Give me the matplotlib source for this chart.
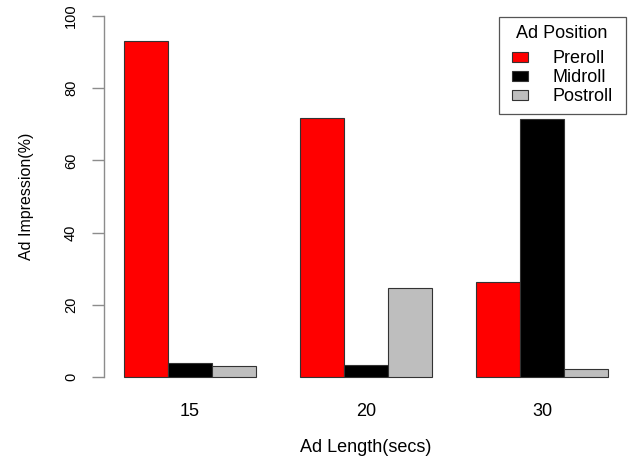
import matplotlib
matplotlib.use("Agg")
import matplotlib.pyplot as plt
from matplotlib.patches import Patch

plt.rcParams['font.family'] = ['Liberation Sans', 'DejaVu Sans']

categories = ["15", "20", "30"]
series_names = ["Preroll", "Midroll", "Postroll"]
preroll = [93.2, 71.8, 26.2]
midroll = [3.8, 3.3, 71.5]
postroll = [3.0, 24.7, 2.3]
colors = ["#ff0000", "#000000", "#bebebe"]

fig = plt.figure(figsize=(6.31, 4.59), dpi=100)
ax = fig.add_axes([0.1658, 0.1473, 0.8285, 0.8493])

all_series = [preroll, midroll, postroll]
for s, (vals, col) in enumerate(zip(all_series, colors)):
    xs = [1 + 4 * g + s + 0.5 for g in range(len(categories))]
    ax.bar(xs, vals, width=1.0, color=col, edgecolor="#333333", linewidth=0.8)

ax.set_xlim(0.56, 12.44)
ax.set_ylim(-4, 104)

for sp in ["top", "right", "bottom"]:
    ax.spines[sp].set_visible(False)
ax.spines["left"].set_bounds(0, 100)
ax.spines["left"].set_color("#8c8c8c")
ax.spines["left"].set_linewidth(1.0)
ax.spines["left"].set_position(("outward", 0.5))

ax.set_yticks([0, 20, 40, 60, 80, 100])
ax.set_yticklabels(["0", "20", "40", "60", "80", "100"], rotation=90, va="center")
ax.tick_params(axis="y", length=8.6, width=1.0, color="#8c8c8c", labelsize=10.5, pad=10)

ax.set_xticks([1 + 4 * g + 1.5 for g in range(len(categories))])
ax.set_xticklabels(categories)
ax.tick_params(axis="x", length=0, labelsize=13, pad=8)

ax.set_xlabel("Ad Length(secs)", fontsize=13, labelpad=14)
ax.set_ylabel("Ad Impression(%)", fontsize=11.5, labelpad=22)

handles = [Patch(facecolor=c, edgecolor="#333333", linewidth=0.8) for c in colors]
leg = ax.legend(handles, series_names, title="  Ad Position  ", loc="upper right",
                bbox_to_anchor=(0.9973, 0.9613), fontsize=13, title_fontsize=13,
                frameon=True, fancybox=False, edgecolor="#555555", framealpha=1,
                handlelength=0.85, handleheight=0.5, handletextpad=1.4,
                labelspacing=0.12, borderpad=0.45, borderaxespad=0)
leg.get_frame().set_linewidth(0.9)
leg._legend_box.sep = 6.0

fig.savefig("out.png", dpi=100)
